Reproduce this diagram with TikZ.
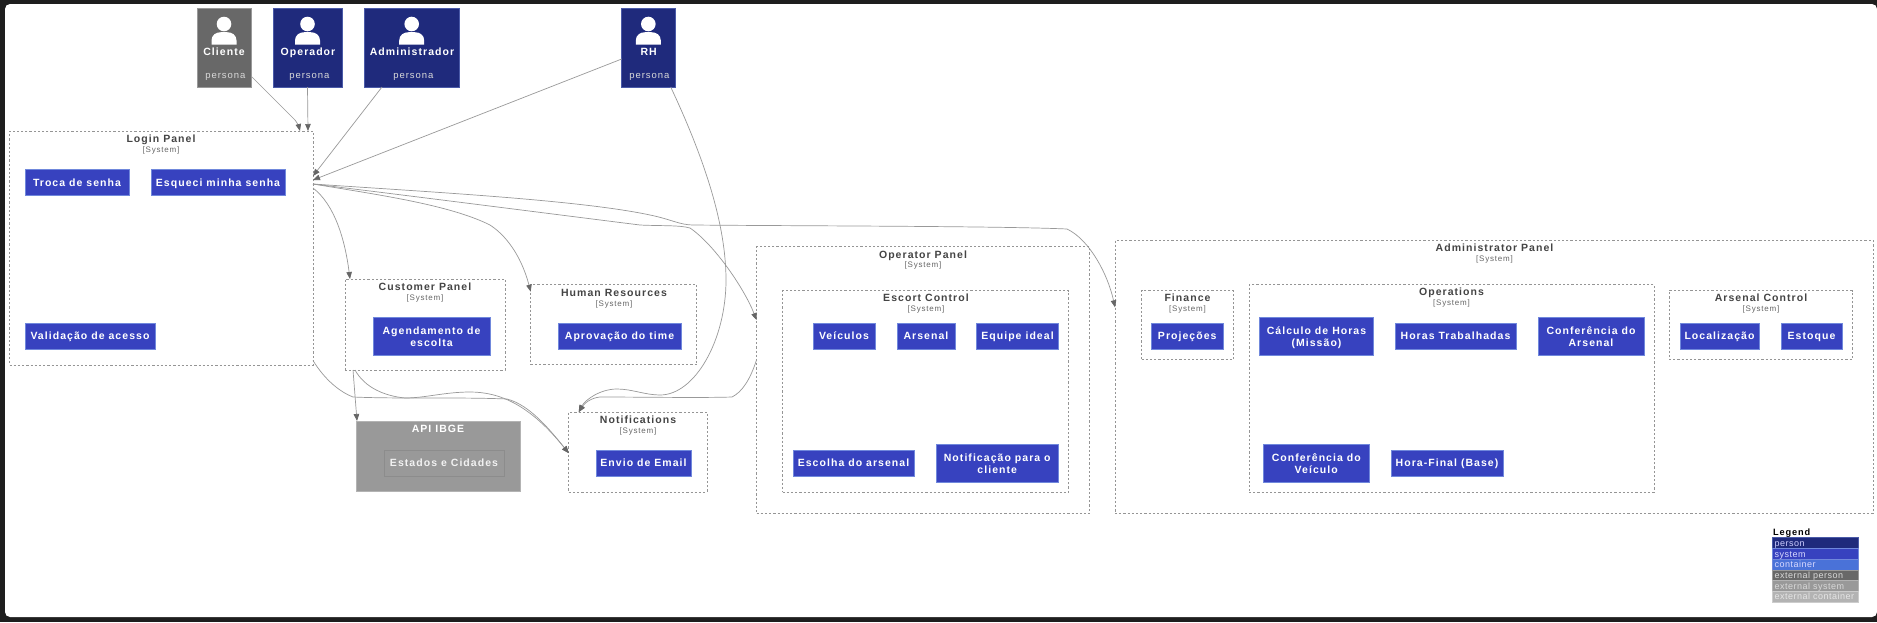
\documentclass[tikz,border=0pt]{standalone}
\usepackage{fontspec}
\setmainfont{Liberation Sans}
\newfontfamily\spaced[LetterSpace=10]{Liberation Sans}
\newfontfamily\lgfont[LetterSpace=5.5]{Liberation Sans}
\usetikzlibrary{arrows.meta}
\definecolor{frame}{HTML}{1E1E1E}
\definecolor{personC}{HTML}{1F2A7C}
\definecolor{personB}{HTML}{4A5AA8}
\definecolor{sysC}{HTML}{3742BF}
\definecolor{sysB}{HTML}{7088DC}
\definecolor{contC}{HTML}{4A72D8}
\definecolor{extP}{HTML}{686868}
\definecolor{extS}{HTML}{999999}
\definecolor{extC}{HTML}{B3B3B3}
\definecolor{titleC}{HTML}{444444}
\definecolor{dashC}{HTML}{959595}
\definecolor{edgeC}{HTML}{999999}
\definecolor{tipC}{HTML}{666666}
\newcommand{\firstline}{\rule{0pt}{11pt}}
\newcommand{\lastline}{\rule[-3pt]{0pt}{3pt}}
\tikzset{
  x=1pt,y=-1pt,
  every node/.style={inner sep=0pt,outer sep=0pt},
  struts/.style 2 args={execute at begin node={\rule{0pt}{#1pt}},execute at end node={\rule[-#2pt]{0pt}{#2pt}}},
  personbox/.style={draw=personB,fill=personC,line width=0.8pt},
  extpersonbox/.style={draw=extS,fill=extP,line width=0.8pt},
  pname/.style={struts={11}{3},font=\spaced\bfseries\fontsize{10.5}{12}\selectfont,text=white},
  psub/.style={struts={9}{3},font=\spaced\fontsize{9.5}{11}\selectfont,text=white!85!black},
  sysbox/.style={struts={10}{3},draw=sysB,fill=sysC,line width=0.8pt,text=white,align=center,font=\spaced\bfseries\fontsize{10.5}{12}\selectfont},
  sysboxtwo/.style={draw=sysB,fill=sysC,line width=0.8pt,text=white,align=center,font=\spaced\bfseries\fontsize{10.5}{12}\selectfont},
  boundary/.style={draw=dashC,dash pattern=on 2.2pt off 2pt,line width=0.7pt},
  btitle/.style={struts={10.5}{2.4},font=\spaced\bfseries\fontsize{10.5}{12}\selectfont,text=titleC},
  bsub/.style={struts={8}{3},font=\spaced\fontsize{8}{9}\selectfont,text=tipC},
  extsys/.style={draw=extC,fill=extS,line width=0.8pt},
  extbox/.style={struts={10}{3},draw=black!45,line width=0.8pt,text=white!95!black,font=\spaced\bfseries\fontsize{10.5}{12}\selectfont},
  edge/.style={draw=edgeC,line width=0.7pt,-{Triangle[length=7pt,width=5.5pt,fill=tipC,color=tipC]}},
  legendrow/.style={struts={8.5}{2.1},minimum width=86pt,minimum height=10.6pt,text width=82pt,align=left,line width=0.6pt,font=\lgfont\fontsize{9}{10}\selectfont},
  headshape/.style={fill=white,draw=none}
}
\begin{document}
\begin{tikzpicture}
\useasboundingbox (0,0) rectangle (1877,622);
\fill[frame] (0,0) rectangle (1877,622);
\fill[white,rounded corners=5pt] (5,4) rectangle (1877,617);

% people
\node[extpersonbox,minimum width=54pt,minimum height=79pt] (cliente) at (224,47.5) {};
\node[personbox,minimum width=69pt,minimum height=79pt] (operador) at (307.5,47.5) {};
\node[personbox,minimum width=95pt,minimum height=79pt] (admin) at (411.5,47.5) {};
\node[personbox,minimum width=54pt,minimum height=79pt] (rh) at (648.7,47.5) {};
\foreach \cx in {224,307.5,411.7,648.3}{
  \fill[headshape] (\cx,24) circle (7.3);
  \fill[headshape] (\cx-12.5,44.6) -- (\cx-12.5,40.5) .. controls (\cx-12.5,35) and (\cx-8,32.2) .. (\cx-3,32.2) -- (\cx+3,32.2) .. controls (\cx+8,32.2) and (\cx+12.5,35) .. (\cx+12.5,40.5) -- (\cx+12.5,44.6) -- cycle;
}
\node[pname] (clienteN) at (224,51.6) {Cliente};
\node[psub] (clienteS) at (225.3,75) {persona};
\node[pname] (operadorN) at (308,51.6) {Operador};
\node[psub] (operadorS) at (309.3,75) {persona};
\node[pname] (adminN) at (412,51.6) {Administrador};
\node[psub] (adminS) at (413.3,75) {persona};
\node[pname] (rhN) at (648.7,51.6) {RH};
\node[psub] (rhS) at (649.3,75) {persona};

% boundaries
\node[boundary,minimum width=303.5pt,minimum height=234pt] (login) at (161.25,248) {};
\node[btitle] (loginT) at (161,138) {Login Panel};
\node[bsub] (loginS) at (161,150) {[System]};
\node[boundary,minimum width=160pt,minimum height=91pt] (customer) at (425,324.5) {};
\node[btitle] (customerT) at (425,286) {Customer Panel};
\node[bsub] (customerS) at (425,297.5) {[System]};
\node[boundary,minimum width=166pt,minimum height=80pt] (hr) at (613.7,324.7) {};
\node[btitle] (hrT) at (614,292) {Human Resources};
\node[bsub] (hrS) at (614,303.5) {[System]};
\node[boundary,minimum width=138.3pt,minimum height=79.8pt] (notif) at (637.85,452) {};
\node[btitle] (notifT) at (638,419) {Notifications};
\node[bsub] (notifS) at (638,430.5) {[System]};
\node[boundary,minimum width=333.2pt,minimum height=267pt] (operator) at (923.1,380) {};
\node[btitle] (operatorT) at (923,254) {Operator Panel};
\node[bsub] (operatorS) at (923,265) {[System]};
\node[boundary,minimum width=286pt,minimum height=201.8pt] (escort) at (925.5,391.4) {};
\node[btitle] (escortT) at (926,297) {Escort Control};
\node[bsub] (escortS) at (926,309) {[System]};
\node[boundary,minimum width=758pt,minimum height=273pt] (adminP) at (1494,376.8) {};
\node[btitle] (adminPT) at (1494.5,247.5) {Administrator Panel};
\node[bsub] (adminPS) at (1494.5,259) {[System]};
\node[boundary,minimum width=91.7pt,minimum height=69.2pt] (finance) at (1187.45,325.1) {};
\node[btitle] (financeT) at (1187.5,297) {Finance};
\node[bsub] (financeS) at (1187.5,309) {[System]};
\node[boundary,minimum width=405pt,minimum height=207.5pt] (operations) at (1451.5,388.25) {};
\node[btitle] (operationsT) at (1451.5,291) {Operations};
\node[bsub] (operationsS) at (1451.5,302.5) {[System]};
\node[boundary,minimum width=183pt,minimum height=69.2pt] (arsenalC) at (1760.5,325.1) {};
\node[btitle] (arsenalCT) at (1761,297) {Arsenal Control};
\node[bsub] (arsenalCS) at (1761,309) {[System]};

% components
\node[sysbox,minimum width=104pt,minimum height=26pt] (troca) at (77,182.5) {Troca de senha};
\node[sysbox,minimum width=134pt,minimum height=26pt] (esqueci) at (218,182.5) {Esqueci minha senha};
\node[sysbox,minimum width=130pt,minimum height=26pt] (validacao) at (90,336) {Validação de acesso};
\node[sysboxtwo,minimum width=117pt,minimum height=38pt] (agenda) at (431.5,336) {\firstline Agendamento de\\\lastline escolta};
\node[sysbox,minimum width=123pt,minimum height=26pt] (aprova) at (619.5,336) {Aprovação do time};
\node[sysbox,minimum width=95pt,minimum height=26pt] (envio) at (643.5,463) {Envio de Email};
\node[sysbox,minimum width=62pt,minimum height=26pt] (veiculos) at (844,336) {Veículos};
\node[sysbox,minimum width=58pt,minimum height=26pt] (arsenal) at (926,336) {Arsenal};
\node[sysbox,minimum width=82pt,minimum height=26pt] (equipe) at (1017.5,336) {Equipe ideal};
\node[sysbox,minimum width=121pt,minimum height=26pt] (escolha) at (853.5,463) {Escolha do arsenal};
\node[sysboxtwo,minimum width=122.5pt,minimum height=38pt] (notifc) at (997.25,463) {\firstline Notificação para o\\\lastline cliente};
\node[sysbox,minimum width=71.5pt,minimum height=26pt] (projecoes) at (1187.25,336) {Projeções};
\node[sysboxtwo,minimum width=114pt,minimum height=38pt] (calculo) at (1316.5,336) {\firstline Cálculo de Horas\\\lastline (Missão)};
\node[sysbox,minimum width=121pt,minimum height=26pt] (horas) at (1455.5,336) {Horas Trabalhadas};
\node[sysboxtwo,minimum width=106pt,minimum height=38pt] (confA) at (1591,336) {\firstline Conferência do\\\lastline Arsenal};
\node[sysboxtwo,minimum width=105.5pt,minimum height=38pt] (confV) at (1316.25,463) {\firstline Conferência do\\\lastline Veículo};
\node[sysbox,minimum width=112pt,minimum height=26pt] (horaF) at (1447,463) {Hora-Final (Base)};
\node[sysbox,minimum width=79pt,minimum height=26pt] (local) at (1719.5,336) {Localização};
\node[sysbox,minimum width=61pt,minimum height=26pt] (estoque) at (1811.5,336) {Estoque};

% external
\node[extsys,minimum width=164pt,minimum height=70.6pt] (api) at (438,456.3) {};
\node[struts={10.5}{2.4},font=\spaced\bfseries\fontsize{10.5}{12}\selectfont,text=white] (apiT) at (438,428) {API IBGE};
\node[extbox,minimum width=120pt,minimum height=26pt] (estados) at (444,463) {Estados e Cidades};

% legend
\node[struts={9}{2},font=\spaced\bfseries\fontsize{9.2}{10}\selectfont,text=black,anchor=west] (legendT) at (1773,532) {Legend};
\node[legendrow,fill=personC,draw=personB,text=white!80!blue] (lg1) at (1815.7,543) {person};
\node[legendrow,fill=sysC,draw=sysB,text=white!85!blue] (lg2) at (1815.7,553.8) {system};
\node[legendrow,fill=contC,draw=sysB,text=white!85!blue] (lg3) at (1815.7,564.6) {container};
\node[legendrow,fill=extP,draw=extS,text=white!85!black] (lg4) at (1815.7,575.2) {external person};
\node[legendrow,fill=extS,draw=extC,text=white!85!black] (lg5) at (1815.7,585.8) {external system};
\node[legendrow,fill=extC,draw=white!80!black,text=white!90!black] (lg6) at (1815.7,596.6) {external container};

% connectors
\draw[edge] ([yshift=-28.5pt]cliente.east) -- (295,120) .. controls (298,124) and (299,127) .. ([xshift=-13pt]login.north east);
\draw[edge] (operador.south) -- ([xshift=-5pt]login.north east);
\draw[edge] ([xshift=-29.5pt]admin.south) -- ([yshift=-45pt]login.north east);
\draw[edge] ([yshift=-11.5pt]rh.west) -- ([yshift=-49pt]login.north east);
\draw[edge] ([yshift=-57pt]login.north east) .. controls (335,205) and (345,240) .. ([xshift=5pt]customer.north west);
\draw[edge] ([yshift=-53pt]login.north east) .. controls (380,195) and (450,205) .. (490,225) .. controls (510,238) and (523,262) .. ([yshift=-7pt]hr.north west);
\draw[edge] ([yshift=-53pt]login.north east) .. controls (420,197) and (560,215) .. (640,225) .. controls (660,226) and (680,225) .. (690,228) .. controls (715,245) and (745,290) .. ([yshift=-73.5pt]operator.north west);
\draw[edge] ([yshift=-53pt]login.north east) .. controls (430,192) and (580,200) .. (650,215) .. controls (670,219) and (680,225) .. (693,225) .. controls (800,226) and (1000,226) .. (1067,229) .. controls (1090,240) and (1108,275) .. ([yshift=-67pt]adminP.north west);
\draw[edge] ([xshift=22pt]rh.south) .. controls (705,160) and (726,225) .. (726,280) .. controls (726,340) and (695,395) .. (660,395) .. controls (645,395) and (632,389) .. (617,389) .. controls (600,389) and (585,400) .. ([xshift=10pt]notif.north west);
\draw[edge] ([yshift=-113.5pt]operator.north west) .. controls (750,380) and (742,392) .. (732,397) .. controls (700,398) and (640,397) .. (600,397) .. controls (590,398) and (584,404) .. ([xshift=10pt]notif.north west);
\draw[edge] ([yshift=4.5pt]login.south east) .. controls (325,380) and (340,392) .. (353,397) .. controls (400,399) and (460,397) .. (507,399) .. controls (530,405) and (550,430) .. ([yshift=-41pt]notif.north west);
\draw[edge] ([xshift=10pt]customer.south west) .. controls (365,388) and (385,396) .. (405,398) .. controls (425,398) and (445,392) .. (470,392) .. controls (500,392) and (530,405) .. ([yshift=-41pt]notif.north west);
\draw[edge] ([xshift=8pt]customer.south west) -- ([xshift=1pt]api.north west);
\end{tikzpicture}
\end{document}
